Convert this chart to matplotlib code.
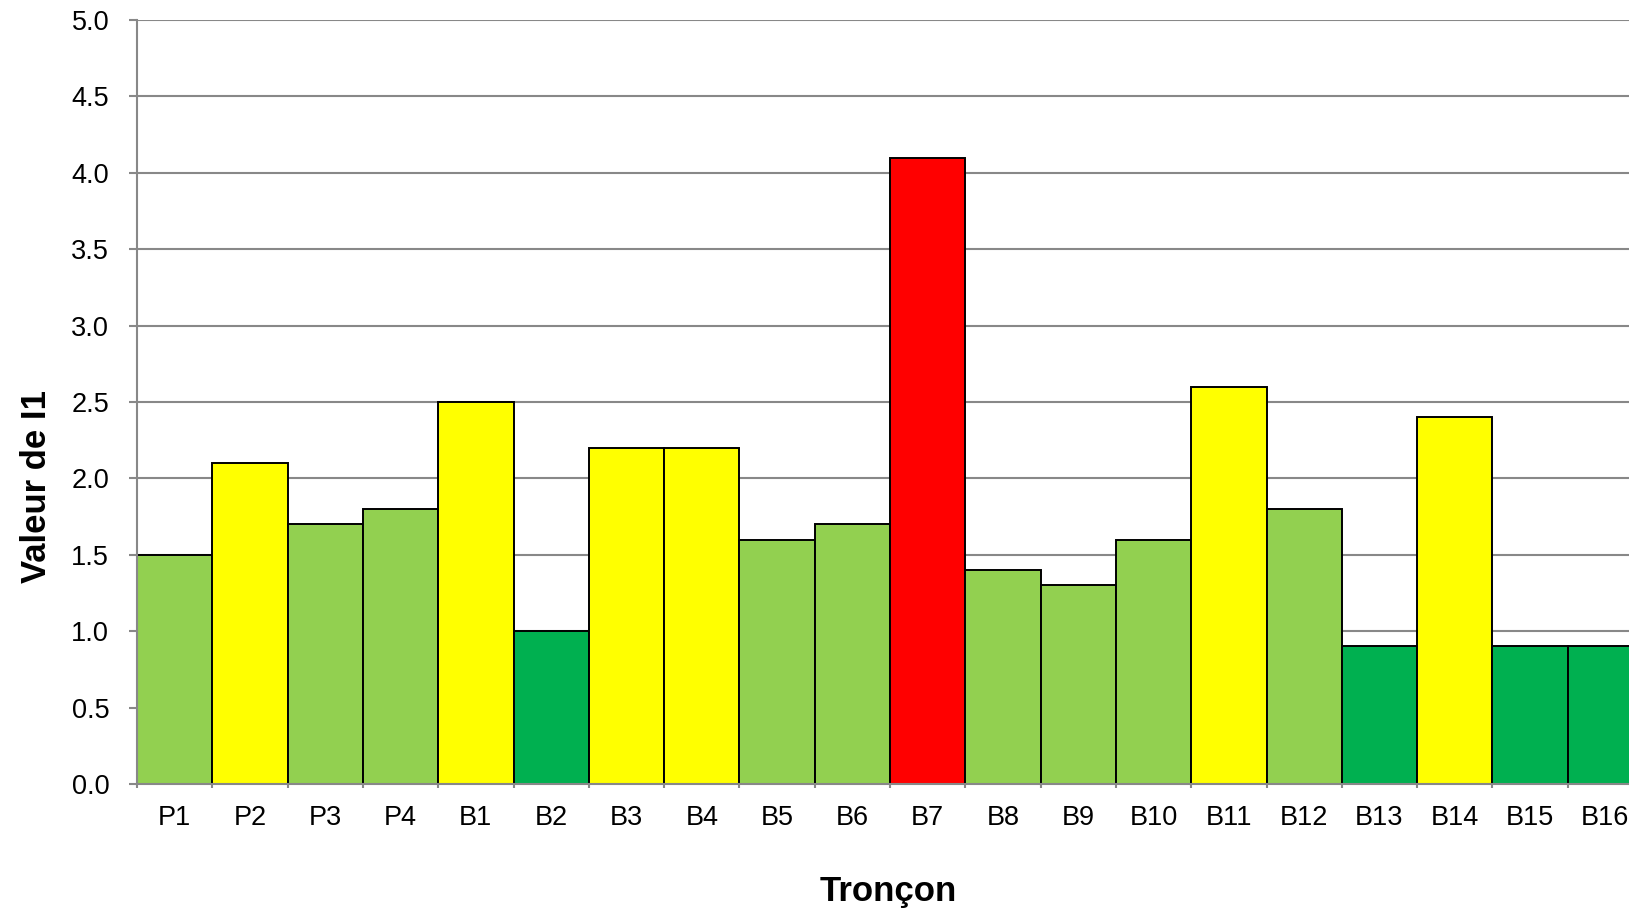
import matplotlib
matplotlib.use("Agg")
import matplotlib.pyplot as plt
import numpy as np

categories = ["P1", "P2", "P3", "P4", "B1", "B2", "B3", "B4", "B5", "B6",
              "B7", "B8", "B9", "B10", "B11", "B12", "B13", "B14", "B15", "B16"]
values = [1.5, 2.1, 1.7, 1.8, 2.5, 1.0, 2.2, 2.2, 1.6, 1.7,
          4.1, 1.4, 1.3, 1.6, 2.6, 1.8, 0.9, 2.4, 0.9, 0.9]
classes = ["lg", "y", "lg", "lg", "y", "dg", "y", "y", "lg", "lg",
           "r", "lg", "lg", "lg", "y", "lg", "dg", "y", "dg", "dg"]
palette = {"lg": "#92D050", "y": "#FFFF00", "dg": "#00B050", "r": "#FF0000"}

plt.rcParams['font.family'] = ['Liberation Sans', 'DejaVu Sans']

W, H = 1629, 909
fig = plt.figure(figsize=(W / 100, H / 100), dpi=100)
ax = fig.add_axes([137 / W, 125 / H, 1506 / W, 764 / H])

x = np.arange(len(categories))
ax.bar(x, values, width=1.0, color=[palette[c] for c in classes],
       edgecolor="black", linewidth=1.4, zorder=3)

ax.set_xlim(-0.5, len(categories) - 0.5)
ax.set_ylim(0, 5.0)
ax.set_yticks(np.arange(0, 5.01, 0.5))
ax.set_yticklabels([f"{v:.1f}" for v in np.arange(0, 5.01, 0.5)])
ax.yaxis.grid(True, color="#888888", linewidth=1.5, zorder=0)
ax.set_axisbelow(True)

ax.set_xticks(x)
ax.set_xticklabels(categories)
ax.set_xticks(np.arange(-0.5, len(categories), 1.0), minor=True)
ax.tick_params(axis="x", which="major", length=0, pad=15, labelsize=19.5)
ax.tick_params(axis="x", which="minor", length=3, width=1.5, color="#888888")
ax.tick_params(axis="y", which="major", length=6, width=1.5, color="#888888",
               pad=14, labelsize=19.5)

for s in ["top", "right"]:
    ax.spines[s].set_visible(False)
for s in ["left", "bottom"]:
    ax.spines[s].set_color("#888888")
    ax.spines[s].set_linewidth(1.5)
    ax.spines[s].set_zorder(4)

ax.set_xlabel("Tronçon", fontsize=25, fontweight="bold", va="bottom")
ax.xaxis.set_label_coords(0.499, -0.162)
ax.set_ylabel("Valeur de I1", fontsize=25, fontweight="bold")
ax.yaxis.set_label_coords(-0.056, 0.39)

fig.savefig("out.png", dpi=100)
